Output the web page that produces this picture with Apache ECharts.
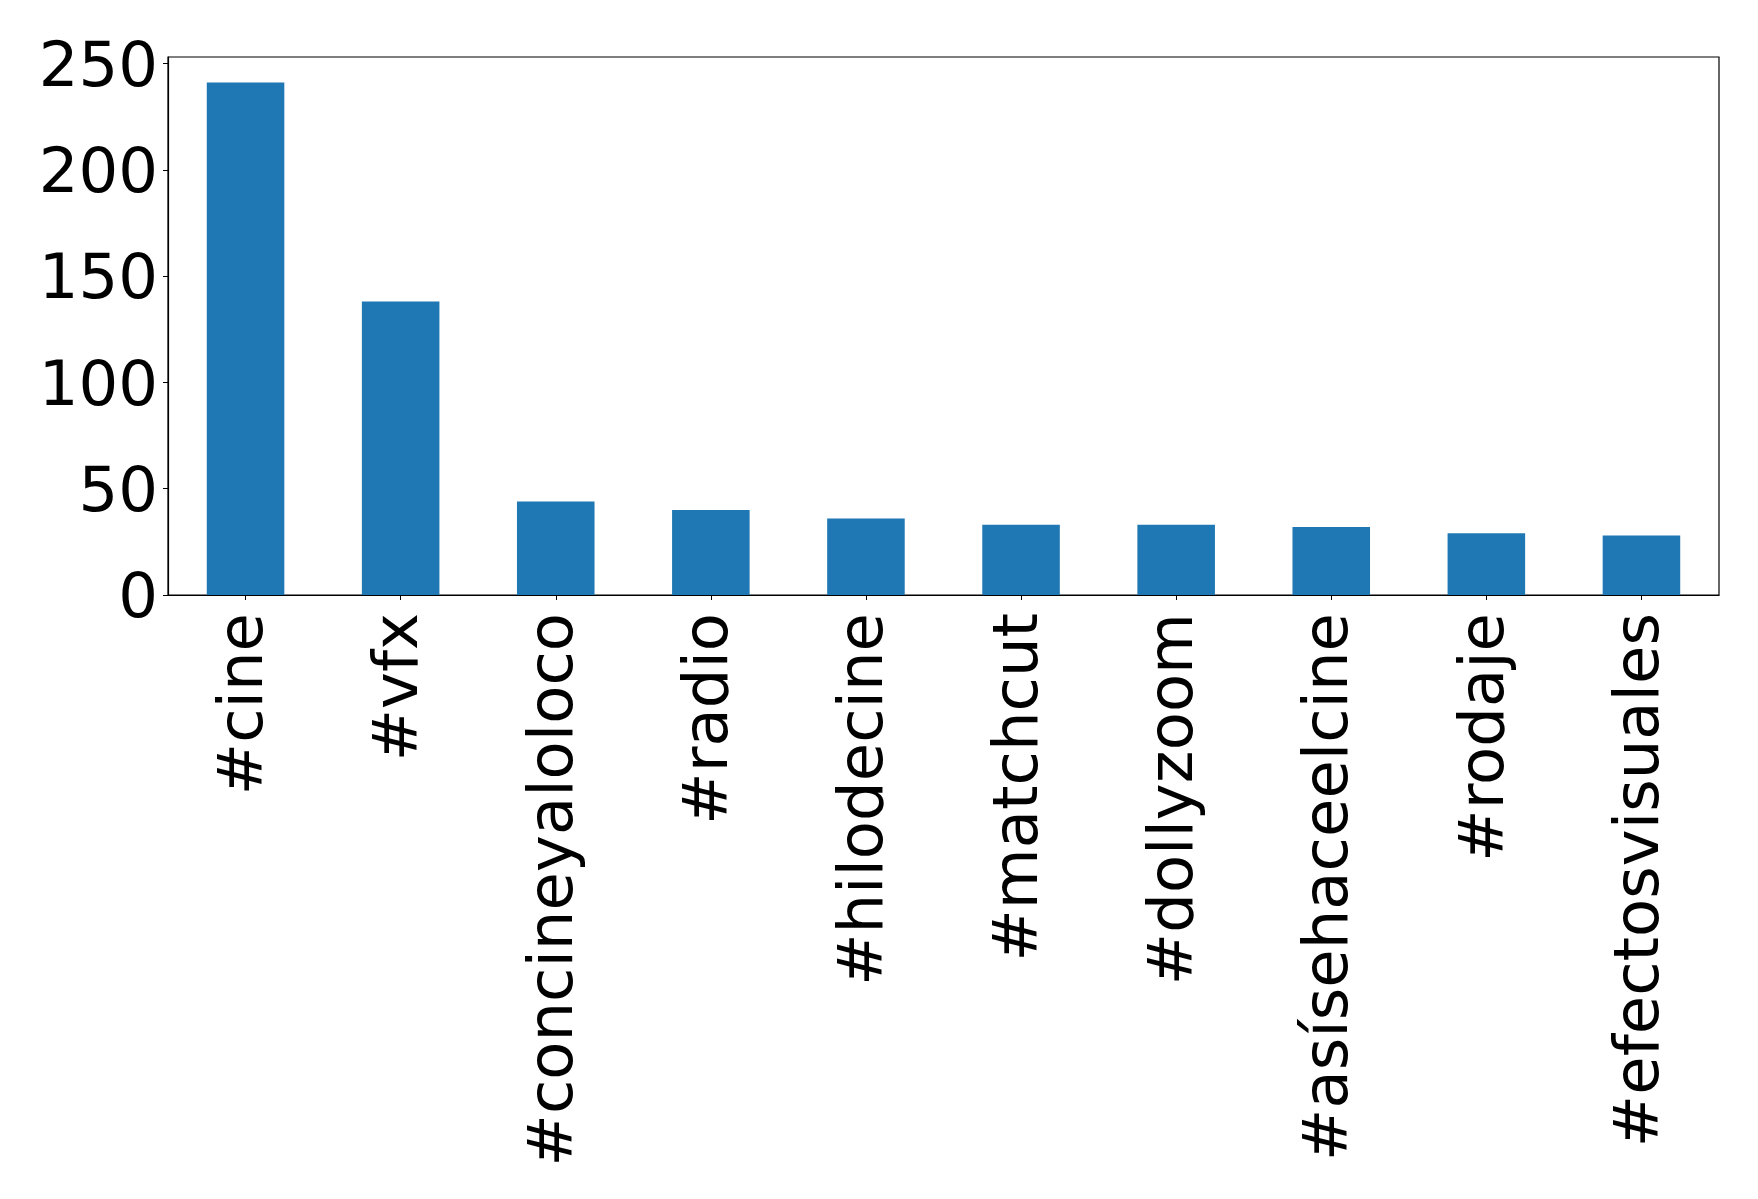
<!DOCTYPE html>
<html>
<head>
<meta charset="utf-8">
<script src="https://cdn.jsdelivr.net/npm/echarts@6/dist/echarts.min.js"></script>
<style>
html,body{margin:0;padding:0;background:#fff;}
#chart{width:1758px;height:1199px;}
</style>
</head>
<body>
<div id="chart"></div>
<script>
const categories = ['#cine', '#vfx', '#concineyaloloco', '#radio', '#hilodecine', '#matchcut', '#dollyzoom', '#asísehaceelcine', '#rodaje', '#efectosvisuales'];
const counts = [241, 138, 44, 40, 36, 33, 33, 32, 29, 28];
const yTicks = [0, 50, 100, 150, 200, 250];

const chart = echarts.init(document.getElementById('chart'));
const font = 'DejaVu Sans';
chart.setOption({
  animation: false,
  backgroundColor: '#ffffff',
  grid: {
    left: 168, right: 39, top: 57, bottom: 604,
    show: true, borderColor: '#000', borderWidth: 1.2, backgroundColor: 'transparent'
  },
  xAxis: {
    type: 'category',
    data: categories,
    axisLine: { show: true, lineStyle: { color: '#000', width: 1.2 } },
    axisTick: { show: true, alignWithLabel: true, length: 5, lineStyle: { color: '#000', width: 1 } },
    axisLabel: {
      rotate: 90, interval: 0, margin: 18, color: '#000',
      fontFamily: font, fontSize: 62.5
    },
    splitLine: { show: false }
  },
  yAxis: {
    type: 'value',
    min: 0, max: 253.05, interval: 50,
    axisLine: { show: true, lineStyle: { color: '#000', width: 1.2 } },
    axisTick: { show: true, length: 5, customValues: yTicks, lineStyle: { color: '#000', width: 1 } },
    axisLabel: {
      customValues: yTicks, margin: 10, color: '#000',
      fontFamily: font, fontSize: 62.5,
      formatter: function (v) { return '{a|' + v + '}'; },
      rich: { a: { fontFamily: font, fontSize: 62.5, color: '#000', padding: [12, 0, 0, 0] } }
    },
    splitLine: { show: false }
  },
  series: [{
    type: 'bar',
    data: counts,
    barWidth: '50%',
    itemStyle: { color: '#1f77b4' }
  }]
});
</script>
</body>
</html>
